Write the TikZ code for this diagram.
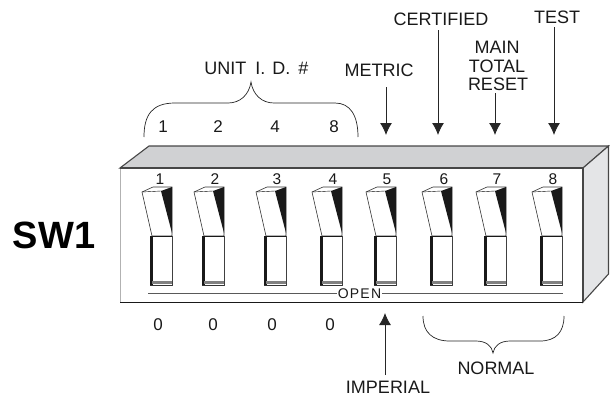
\documentclass[tikz,border=0pt]{standalone}
\usepackage{fontspec}
\setmainfont{Liberation Sans}
\usetikzlibrary{arrows.meta}
\definecolor{topc}{RGB}{208,209,211}
\definecolor{sidec}{RGB}{228,229,231}
\definecolor{ln}{RGB}{70,70,70}
\tikzset{
 lbl/.style={font=\fontsize{18}{20}\selectfont,inner sep=0pt,text=black!90},
 num/.style={font=\fontsize{17}{19}\selectfont,inner sep=0pt,text=black!90},
 innum/.style={font=\fontsize{15.5}{17}\selectfont,inner sep=0pt,text=black!90},
 arr/.style={draw=black!85,line width=0.9pt,-{Latex[length=12pt,width=12pt]}},
 brc/.style={draw=black!85,line width=0.7pt},
 face/.style={draw=ln,line width=1.1pt,line join=miter},
 swbox/.pic={
  \draw[line width=0.6pt,draw=black!80,fill=white] (0,5) -- (11,0) -- (30,0) -- (30,49) -- (10,49) -- cycle;
  \fill[black!90] (19,4) -- (30,0) -- (30,46) -- cycle;
  \draw[line width=0.4pt] (0,5) -- (19,4);
  \draw[line width=0.6pt,draw=black!75,fill=white] (10,49) rectangle (30,98);
  \draw[line width=0.9pt,draw=black!90] (10,49) -- (30,49);
  \fill[black!90] (8,49) -- (11,49) -- (11,98) -- (8,98) -- cycle;
  \fill[black!50] (10,94) rectangle (30,97);
  \draw[line width=0.6pt,draw=black!80] (8,98) -- (30,98);
 }
}
\begin{document}
\begin{tikzpicture}[x=1pt,y=-1pt]
\useasboundingbox (0,0) rectangle (610,397);
\draw[face,fill=topc] (120,168) -- (149,146) -- (608.5,146) -- (583,168) -- cycle;
\draw[face,fill=sidec] (583,168) -- (608.5,146) -- (608.5,274) -- (583,302) -- cycle;
\fill[white] (120,168) rectangle (583,302);
\draw[black!30,line width=0.4pt] (120,168) -- (120,302);
\draw[black!90,line width=0.9pt] (120,302) -- (583,302);
\draw[ln,line width=1.1pt] (120,168) -- (583,168) -- (583,302);
\foreach \n/\x/\lx in {1/142/160,2/194/215,3/256/277,4/312/333,5/366/387,6/422/444,7/476/497,8/532/553}{
  \pic at (\x,187) {swbox};
  \node[innum] (sw\n) at (\lx,179) {\n};
}
\coordinate (ol) at (148,293);
\coordinate (or) at (563,293);
\draw[black!65,line width=1pt] (ol) -- (or);
\node[font=\fontsize{14}{16}\selectfont,fill=white,inner sep=0.5pt,text=black!90] (open) at (359.5,294) {O\kern1.2pt P\kern1.2pt E\kern1.2pt N};
\node[font=\bfseries\fontsize{38}{42}\selectfont,inner sep=0pt,text=black] (sw) at (54,235) {SW1};
\foreach \t/\x in {1/163,2/218,4/275,8/334}{\node[num] (t\t) at (\x,127) {\t};}
\foreach \t/\x in {a/158,b/213,c/272,d/330}{\node[num] (z\t) at (\x,325) {0};}
\node[lbl] (unit) at (256.5,68) {UNIT\hspace{9pt}I.\hspace{7pt}D.\hspace{8pt}\#};
\node[lbl] (metric) at (379,70) {METRIC};
\node[lbl] (cert) at (441,19) {CERTIFIED};
\node[lbl] (main) at (497,47) {MAIN};
\node[lbl] (total) at (497,66) {TOTAL};
\node[lbl] (reset) at (498,84) {RESET};
\node[lbl] (test) at (557,17) {TEST};
\node[lbl] (normal) at (496,368) {NORMAL};
\node[lbl] (imp) at (388,387.5) {IMPERIAL};
\coordinate (am) at (386,135);
\coordinate (ac) at (438,135);
\coordinate (ar) at (495,135);
\coordinate (at) at (554,135);
\coordinate (ai) at (385,313);
\draw[arr] (386,87) -- (am);
\draw[arr] (438,30) -- (ac);
\draw[arr] (495,93) -- (ar);
\draw[arr] (554,27) -- (at);
\draw[arr] (385,375) -- (ai);
\draw[brc] (144,137) .. controls (144,115) and (152,103) .. (175,103) -- (228,103) .. controls (240,103) and (249,95) .. (251,82) .. controls (253,95) and (262,103) .. (274,103) -- (335,103) .. controls (350,103) and (358,115) .. (358,137);
\draw[brc] (423,316) .. controls (423,332) and (432,341) .. (450,341) -- (476,341) .. controls (486,341) and (492,346) .. (493,353) .. controls (494,346) and (500,341) .. (510,341) -- (540,341) .. controls (556,341) and (564,332) .. (564,316);
\end{tikzpicture}
\end{document}
